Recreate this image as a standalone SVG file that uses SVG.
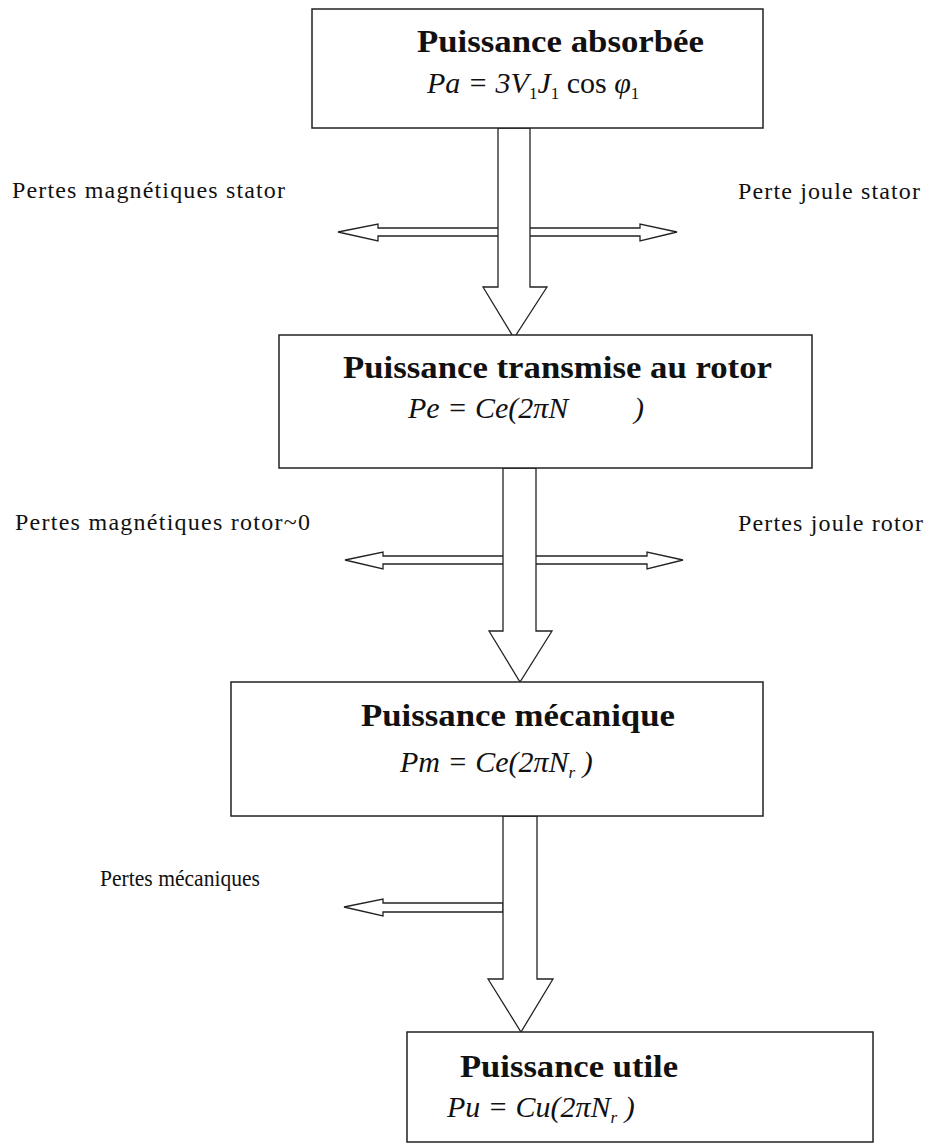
<svg xmlns="http://www.w3.org/2000/svg" width="928" height="1144" viewBox="0 0 928 1144">
<style>
.box{fill:#fff;stroke:#222;stroke-width:1.5}
.arr{fill:#fff;stroke:#222;stroke-width:1.3;stroke-linejoin:miter}
.title{font-family:"Liberation Serif",serif;font-weight:bold;font-size:31px;fill:#111}
.eq{font-family:"Liberation Serif",serif;font-style:italic;font-size:30px;fill:#111}
.sub{font-size:17px;font-style:normal}
.subi{font-size:17px}
.lbl{font-family:"Liberation Serif",serif;font-size:24px;fill:#111}
</style>
<rect width="928" height="1144" fill="#fff"/>
<g id="connectors">
<path class="arr" d="M338,232 L378,224 L378,228 L640,228 L640,224 L677,232 L640,241 L640,236 L378,236 L378,241 Z"/>
<path class="arr" d="M498,128 L530,128 L530,287 L547,287 L514,338 L483,287 L498,287 Z"/>
<path class="arr" d="M345,560 L383,552 L383,556 L647,556 L647,552 L683,560 L647,569 L647,564 L383,564 L383,569 Z"/>
<path class="arr" d="M503,468 L536,468 L536,631 L552,631 L520,682 L489,631 L503,631 Z"/>
<path class="arr" d="M344,907 L383,899 L383,903 L503,903 L503,912 L383,912 L383,916 Z"/>
<path class="arr" d="M503,816 L537,816 L537,979 L553,979 L521,1032 L488,979 L503,979 Z"/>
</g>
<g id="node-absorbee">
<rect class="box" x="312" y="9" width="451" height="119"/>
<text class="title" x="417" y="52" textLength="287" lengthAdjust="spacingAndGlyphs">Puissance absorbée</text>
<text class="eq" x="427" y="93">Pa = 3V<tspan class="sub" dy="6">1</tspan><tspan dy="-6">J</tspan><tspan class="sub" dy="6">1</tspan><tspan dy="-6" font-style="normal"> cos </tspan><tspan>φ</tspan><tspan class="sub" dy="6">1</tspan></text>
</g>
<g id="node-transmise">
<rect class="box" x="279" y="335" width="533" height="133"/>
<text class="title" x="343" y="378" textLength="429" lengthAdjust="spacingAndGlyphs">Puissance transmise au rotor</text>
<text class="eq" x="408" y="418">Pe = Ce(2πN<tspan x="634">)</tspan></text>
</g>
<g id="node-mecanique">
<rect class="box" x="231" y="682" width="532" height="134"/>
<text class="title" x="361" y="726" textLength="314" lengthAdjust="spacingAndGlyphs">Puissance mécanique</text>
<text class="eq" x="400" y="772">Pm = Ce(2πN<tspan class="subi" dy="6">r</tspan><tspan dy="-6"> )</tspan></text>
</g>
<g id="node-utile">
<rect class="box" x="407" y="1032" width="466" height="110"/>
<text class="title" x="460" y="1077" textLength="218" lengthAdjust="spacingAndGlyphs">Puissance utile</text>
<text class="eq" x="447" y="1117">Pu = Cu(2πN<tspan class="subi" dy="6">r</tspan><tspan dy="-6"> )</tspan></text>
</g>
<g id="labels">
<text class="lbl" x="12" y="198" textLength="273" lengthAdjust="spacing">Pertes magnétiques stator</text>
<text class="lbl" x="738" y="199" textLength="182" lengthAdjust="spacing">Perte joule stator</text>
<text class="lbl" x="15" y="530" textLength="295" lengthAdjust="spacing">Pertes magnétiques rotor~0</text>
<text class="lbl" x="738" y="531" textLength="185" lengthAdjust="spacing">Pertes joule rotor</text>
<text class="lbl" x="100" y="886" textLength="160" lengthAdjust="spacingAndGlyphs">Pertes mécaniques</text>
</g>
</svg>
